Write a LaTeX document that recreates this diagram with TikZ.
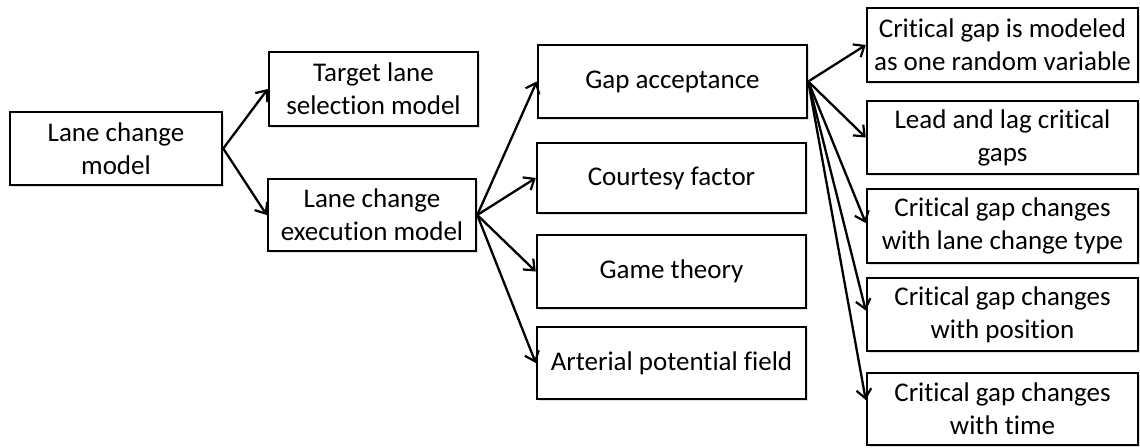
\documentclass[tikz,border=0pt]{standalone}
\usepackage{fontspec}
\setmainfont[Ligatures={NoCommon}]{Carlito}
\usetikzlibrary{arrows.meta,shadows}
\begin{document}
\begin{tikzpicture}[x=1pt,y=-1pt,
  box/.style={draw=black,line width=2.5pt,fill=white,align=center,inner sep=0pt,
    font=\fontsize{27}{33}\selectfont,
    drop shadow={opacity=0.25,shadow xshift=1.5pt,shadow yshift=-1.5pt}},
  link/.style={line width=2.3pt,-{Straight Barb[length=9pt,width=15pt,line width=2.2pt]}}]
\useasboundingbox (0,0) rectangle (1140,447);

% root and first level
\node[box,minimum width=212pt,minimum height=73pt] (lcm) at (116,148.5) {Lane change\\model};
\node[box,minimum width=209pt,minimum height=74pt] (tls) at (373.5,89) {Target lane\\selection model};
\node[box,minimum width=208pt,minimum height=72pt] (lce) at (372,215) {Lane change\\execution model};

% execution approaches
\node[box,minimum width=269pt,minimum height=73pt] (gap) at (672.5,81.5) {Gap acceptance};
\node[box,minimum width=269pt,minimum height=70pt] (court) at (671.5,178) {Courtesy factor};
\node[box,minimum width=269pt,minimum height=73pt] (game) at (671.5,271.5) {Game theory};
\node[box,minimum width=269pt,minimum height=72pt] (art) at (671.5,363) {Arterial potential field};

% gap acceptance variants
\node[box,minimum width=271pt,minimum height=74pt] (r1) at (1002.5,45) {Critical gap is modeled\\as one random variable};
\node[box,minimum width=271pt,minimum height=73pt] (r2) at (1002.5,137.5) {Lead and lag critical\\gaps};
\node[box,minimum width=271pt,minimum height=74pt] (r3) at (1002.5,226) {Critical gap changes\\with lane change type};
\node[box,minimum width=271pt,minimum height=73pt] (r4) at (1002.5,314.5) {Critical gap changes\\with position};
\node[box,minimum width=271pt,minimum height=72pt] (r5) at (1002.5,409) {Critical gap changes\\with time};

% connectors
\draw[link] (lcm.east) -- (tls.west);
\draw[link] (lcm.east) -- (lce.west);
\draw[link] (lce.east) -- (gap.west);
\draw[link] (lce.east) -- (court.west);
\draw[link] (lce.east) -- (game.west);
\draw[link] (lce.east) -- (art.west);
\draw[link] (gap.east) -- (r1.west);
\draw[link] (gap.east) -- (r2.west);
\draw[link] (gap.east) -- ([yshift=3pt]r3.west);
\draw[link] (gap.east) -- ([yshift=4pt]r4.west);
\draw[link] (gap.east) -- ([yshift=9pt]r5.west);
\end{tikzpicture}
\end{document}
